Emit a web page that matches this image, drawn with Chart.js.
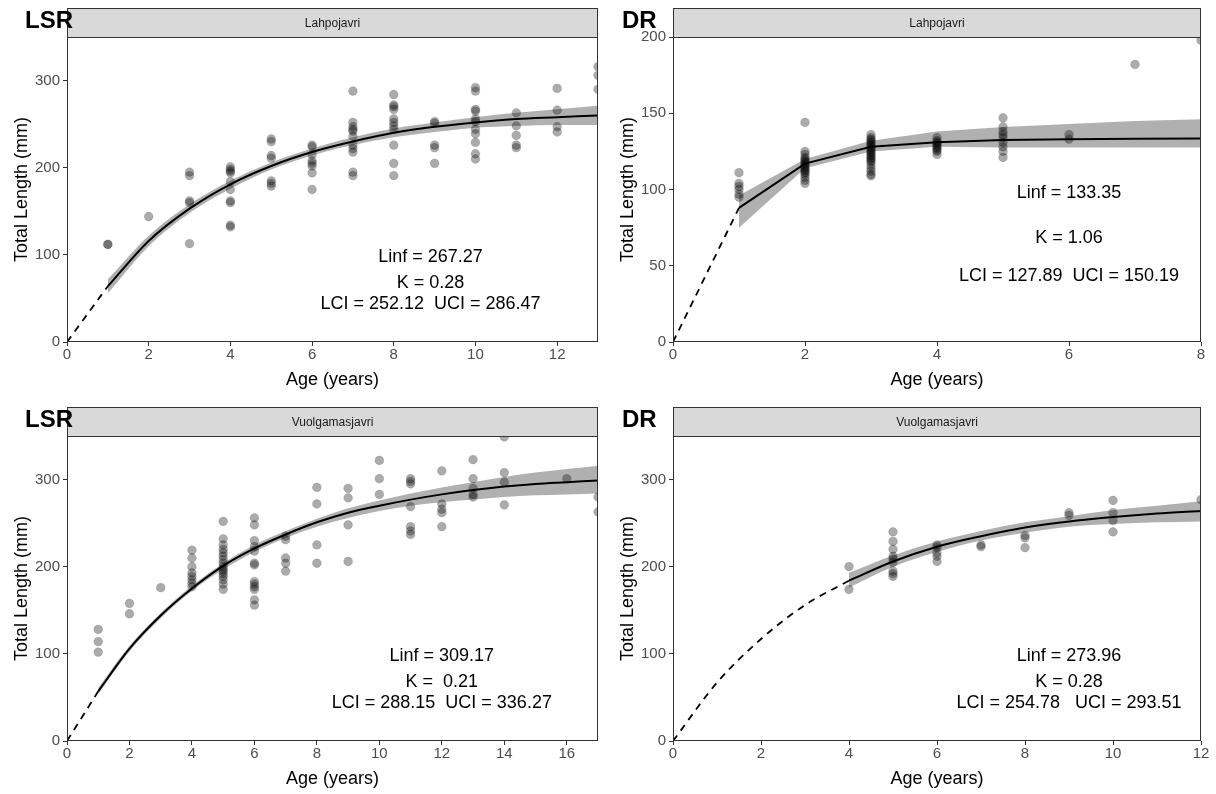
<!DOCTYPE html>
<html>
<head>
<meta charset="utf-8">
<title>Growth curves</title>
<script src="https://cdn.jsdelivr.net/npm/chart.js@4.4.1/dist/chart.umd.min.js"></script>
<style>
  body { margin: 0; background: #fff; width: 1216px; height: 794px; overflow: hidden; position: relative; }
  canvas { position: absolute; }
</style>
</head>
<body>
<canvas id="lahLsr" width="608" height="397" style="left:0;top:0"></canvas>
<canvas id="lahDr" width="610" height="397" style="left:606px;top:0"></canvas>
<canvas id="vuoLsr" width="608" height="397" style="left:0;top:399px"></canvas>
<canvas id="vuoDr" width="610" height="397" style="left:606px;top:399px"></canvas>
<script>
// ---- Lahpojavri, LSR ----
const lahLsrAges = [1, 2, 3, 4, 5, 6, 7, 8, 9, 10, 11, 12, 13];
const lahLsrLengths = [
    [112, 112],
    [144],
    [195, 191, 162, 160, 113],
    [201, 198, 196, 194, 184, 175, 162, 160, 134, 132],
    [233, 230, 214, 211, 185, 182, 179],
    [226, 224, 215, 208, 205, 202, 194, 175],
    [288, 252, 247, 244, 242, 236, 226, 222, 218, 195, 191],
    [284, 272, 270, 267, 256, 252, 248, 244, 226, 205, 191],
    [253, 251, 226, 223, 205],
    [292, 288, 267, 265, 256, 253, 244, 239, 229, 216, 210],
    [263, 248, 237, 226, 223],
    [291, 266, 247, 241],
    [316, 306, 290],
];
const lahLsrFit = [64, 116, 153, 181, 202, 218, 230, 240, 247, 252, 256, 258, 260];
const lahLsrLower = [56, 110, 148, 176, 198, 214, 226, 235, 241, 246, 248, 249, 249];
const lahLsrUpper = [72, 122, 158, 185, 206, 222, 235, 245, 252, 258, 263, 267, 271];
const lahLsrBackAges = [0, 1];
const lahLsrBack = [0, 64];

// ---- Lahpojavri, DR ----
const lahDrAges = [1, 2, 3, 4, 5, 6, 7, 8];
const lahDrLengths = [
    [111, 104, 102, 100, 97, 95],
    [144, 125, 123, 121, 120, 119, 118, 117, 116, 115, 114, 113, 112, 111, 110, 108, 106, 104],
    [136, 134, 133, 132, 131, 130, 129, 128, 127, 126, 125, 124, 123, 122, 121, 120, 119, 118, 116, 114, 112, 110, 109],
    [134, 132, 131, 130, 129, 128, 127, 126, 125, 123],
    [147, 141, 138, 136, 134, 131, 128, 125, 121],
    [136, 133],
    [182],
    [198],
];
const lahDrFit = [88, 117, 128, 131, 132.5, 133, 133.3, 133.4];
const lahDrLower = [75, 114, 125, 128, 127.5, 127.5, 127.5, 127.5];
const lahDrUpper = [96, 120, 132, 138, 141, 143, 145, 146];
const lahDrBackAges = [0, 1];
const lahDrBack = [0, 88];

// ---- Vuolgamasjavri, LSR ----
const vuoLsrAges = [1, 2, 3, 4, 5, 6, 7, 8, 9, 10, 11, 12, 13, 14, 16, 17];
const vuoLsrLengths = [
    [128, 114, 102],
    [158, 146],
    [176],
    [219, 210, 200, 193, 189, 185, 181, 177],
    [252, 232, 225, 220, 216, 212, 208, 204, 200, 197, 195, 192, 189, 185, 180, 174],
    [256, 248, 230, 223, 218, 204, 202, 183, 180, 177, 174, 162, 156],
    [235, 231, 210, 204, 195],
    [291, 272, 225, 204],
    [290, 279, 248, 206],
    [322, 301, 283],
    [301, 298, 295, 269, 246, 241, 237],
    [310, 272, 266, 262, 246],
    [323, 301, 290, 283, 280],
    [349, 308, 297, 271],
    [301],
    [280, 263],
];
const vuoLsrFitAges = [1, 2, 3, 4, 5, 6, 7, 8, 9, 10, 11, 12, 13, 14, 15, 16, 17];
const vuoLsrFit = [57, 106, 144, 175, 201, 221, 237, 251, 262, 270, 277, 283, 288, 292, 295, 297, 299];
const vuoLsrLower = [54, 103, 141, 172, 197, 217, 233, 246, 256, 264, 270, 274, 277, 280, 282, 283, 284];
const vuoLsrUpper = [61, 109, 147, 178, 204, 225, 241, 255, 267, 276, 284, 291, 297, 303, 308, 312, 316];
const vuoLsrBackAges = [0, 1];
const vuoLsrBack = [0, 57];

// ---- Vuolgamasjavri, DR ----
const vuoDrAges = [4, 5, 6, 7, 8, 9, 10, 12];
const vuoDrLengths = [
    [200, 174],
    [240, 229, 220, 212, 209, 205, 195, 192, 189],
    [225, 222, 216, 212, 206],
    [225, 223],
    [236, 233, 222],
    [262, 259],
    [276, 262, 253, 240],
    [277],
];
const vuoDrFitAges = [4, 5, 6, 7, 8, 9, 10, 11, 12];
const vuoDrFit = [184, 206, 223, 235, 245, 252, 257, 261, 264];
const vuoDrLower = [176, 200, 217, 230, 239, 246, 249, 251, 252];
const vuoDrUpper = [193, 213, 229, 241, 251, 258, 265, 270, 275];
const vuoDrBackAges = [0, 1, 2, 3, 4];
const vuoDrBack = [0, 67, 117, 156, 184];

// ---- axis ticks ----
const ticks0to12 = [0, 2, 4, 6, 8, 10, 12];
const ticks0to8 = [0, 2, 4, 6, 8];
const ticks0to16 = [0, 2, 4, 6, 8, 10, 12, 14, 16];
const lengthTicks300 = [0, 100, 200, 300];
const lengthTicks200 = [0, 50, 100, 150, 200];

const FONT = '"Liberation Sans", Arial, sans-serif';
Chart.defaults.font.family = FONT;

const toXY = (xs, ys) => xs.map((x, i) => ({ x: x, y: ys[i] }));

const facetPlugin = {
    id: 'facet',
    afterDraw(chart, args, opts) {
        const { ctx, chartArea: a, scales } = chart;
        const left = Math.round(a.left) + 0.5;
        const right = Math.round(a.right) - 0.5;
        const top = Math.round(a.top) + 0.5;
        const bottom = Math.round(a.bottom) - 0.5;
        ctx.save();

        // strip with lake name
        ctx.fillStyle = '#d9d9d9';
        ctx.fillRect(left, top - 29, right - left, 29);
        ctx.strokeStyle = '#333333';
        ctx.lineWidth = 1;
        ctx.strokeRect(left, top - 29, right - left, 29);
        ctx.fillStyle = '#1a1a1a';
        ctx.font = '12px ' + FONT;
        ctx.textAlign = 'center';
        ctx.textBaseline = 'middle';
        ctx.fillText(opts.lake, (left + right) / 2, top - 14);

        // panel frame
        ctx.strokeRect(left, top, right - left, bottom - top);

        // fitted parameters
        ctx.fillStyle = '#000';
        ctx.font = '18px ' + FONT;
        opts.notes.forEach((line, i) => {
            ctx.fillText(line, scales.x.getPixelForValue(opts.noteX), scales.y.getPixelForValue(opts.noteY[i]));
        });

        // method tag
        ctx.font = 'bold 24px ' + FONT;
        ctx.textAlign = 'left';
        ctx.textBaseline = 'alphabetic';
        ctx.fillText(opts.tag, opts.tagX, 28);
        ctx.restore();
    },
};

function makePanel(id, cfg) {
    const points = [];
    cfg.ages.forEach((age, i) => {
        cfg.lengths[i].forEach((len) => points.push({ x: age, y: len }));
    });

    const curve = cfg.smooth ? { cubicInterpolationMode: 'monotone' } : { tension: 0 };

    const datasets = [
        Object.assign({
            label: 'lower',
            data: toXY(cfg.fitAges, cfg.lower),
            showLine: true,
            borderWidth: 0,
            pointRadius: 0,
            fill: false,
            order: 3,
            clip: 0,
        }, curve),
        Object.assign({
            label: 'upper',
            data: toXY(cfg.fitAges, cfg.upper),
            showLine: true,
            borderWidth: 0,
            pointRadius: 0,
            fill: '-1',
            backgroundColor: 'rgba(0, 0, 0, 0.31)',
            order: 3,
            clip: 0,
        }, curve),
        {
            label: 'observed',
            data: points,
            pointRadius: 4.4,
            pointBackgroundColor: 'rgba(0, 0, 0, 0.33)',
            pointBorderColor: 'rgba(0, 0, 0, 0.12)',
            pointBorderWidth: 1,
            order: 2,
            clip: 0,
        },
        Object.assign({
            label: 'fit',
            data: toXY(cfg.fitAges, cfg.fit),
            showLine: true,
            borderColor: '#000',
            borderWidth: 2,
            pointRadius: 0,
            order: 1,
            clip: 0,
        }, curve),
        Object.assign({
            label: 'back-calculated',
            data: toXY(cfg.backAges, cfg.back),
            showLine: true,
            borderColor: '#000',
            borderWidth: 1.8,
            borderDash: [7, 6],
            pointRadius: 0,
            order: 1,
            clip: 0,
        }, curve),
    ];

    new Chart(document.getElementById(id), {
        type: 'scatter',
        data: { datasets: datasets },
        options: {
            responsive: false,
            animation: false,
            events: [],
            layout: { padding: { top: 37, right: cfg.padRight, bottom: 0, left: 0 } },
            plugins: {
                legend: { display: false },
                tooltip: { enabled: false },
                facet: {
                    lake: cfg.lake,
                    tag: cfg.tag,
                    tagX: cfg.tagX,
                    notes: cfg.notes,
                    noteX: cfg.noteX,
                    noteY: [98, 68, 43],
                },
            },
            scales: {
                x: {
                    type: 'linear',
                    min: 0,
                    max: cfg.xMax,
                    afterBuildTicks: (scale) => { scale.ticks = cfg.xTicks.map((v) => ({ value: v })); },
                    afterFit: (scale) => { scale.height = 55; },
                    border: { display: false },
                    grid: { drawOnChartArea: false, drawTicks: true, tickLength: 4, color: '#333333' },
                    ticks: { color: '#4d4d4d', font: { size: 15 }, padding: 0, maxRotation: 0 },
                    title: { display: true, text: 'Age (years)', color: '#000', font: { size: 18 }, padding: { top: 0, bottom: 6 } },
                },
                y: {
                    type: 'linear',
                    min: 0,
                    max: cfg.yMax,
                    afterBuildTicks: (scale) => { scale.ticks = cfg.yTicks.map((v) => ({ value: v })); },
                    afterFit: (scale) => { scale.width = 67; },
                    border: { display: false },
                    grid: { drawOnChartArea: false, drawTicks: true, tickLength: 4, color: '#333333' },
                    ticks: { color: '#4d4d4d', font: { size: 15 }, padding: 3 },
                    title: { display: true, text: 'Total Length (mm)', color: '#000', font: { size: 18 }, padding: { top: 11, bottom: 0 } },
                },
            },
        },
        plugins: [facetPlugin],
    });
}

makePanel('lahLsr', {
    lake: 'Lahpojavri', tag: 'LSR', tagX: 25, padRight: 10,
    ages: lahLsrAges, lengths: lahLsrLengths,
    fitAges: lahLsrAges, fit: lahLsrFit, lower: lahLsrLower, upper: lahLsrUpper,
    backAges: lahLsrBackAges, back: lahLsrBack, smooth: true,
    xMax: 13, xTicks: ticks0to12, yMax: 350, yTicks: lengthTicks300,
    notes: ['Linf = 267.27', 'K = 0.28', 'LCI = 252.12  UCI = 286.47'], noteX: 8.9,
});

makePanel('lahDr', {
    lake: 'Lahpojavri', tag: 'DR', tagX: 16, padRight: 15,
    ages: lahDrAges, lengths: lahDrLengths,
    fitAges: lahDrAges, fit: lahDrFit, lower: lahDrLower, upper: lahDrUpper,
    backAges: lahDrBackAges, back: lahDrBack, smooth: false,
    xMax: 8, xTicks: ticks0to8, yMax: 200, yTicks: lengthTicks200,
    notes: ['Linf = 133.35', 'K = 1.06', 'LCI = 127.89  UCI = 150.19'], noteX: 6,
});

makePanel('vuoLsr', {
    lake: 'Vuolgamasjavri', tag: 'LSR', tagX: 25, padRight: 10,
    ages: vuoLsrAges, lengths: vuoLsrLengths,
    fitAges: vuoLsrFitAges, fit: vuoLsrFit, lower: vuoLsrLower, upper: vuoLsrUpper,
    backAges: vuoLsrBackAges, back: vuoLsrBack, smooth: true,
    xMax: 17, xTicks: ticks0to16, yMax: 350, yTicks: lengthTicks300,
    notes: ['Linf = 309.17', 'K =  0.21', 'LCI = 288.15  UCI = 336.27'], noteX: 12,
});

makePanel('vuoDr', {
    lake: 'Vuolgamasjavri', tag: 'DR', tagX: 16, padRight: 15,
    ages: vuoDrAges, lengths: vuoDrLengths,
    fitAges: vuoDrFitAges, fit: vuoDrFit, lower: vuoDrLower, upper: vuoDrUpper,
    backAges: vuoDrBackAges, back: vuoDrBack, smooth: true,
    xMax: 12, xTicks: ticks0to12, yMax: 350, yTicks: lengthTicks300,
    notes: ['Linf = 273.96', 'K = 0.28', 'LCI = 254.78   UCI = 293.51'], noteX: 9,
});
</script>
</body>
</html>
